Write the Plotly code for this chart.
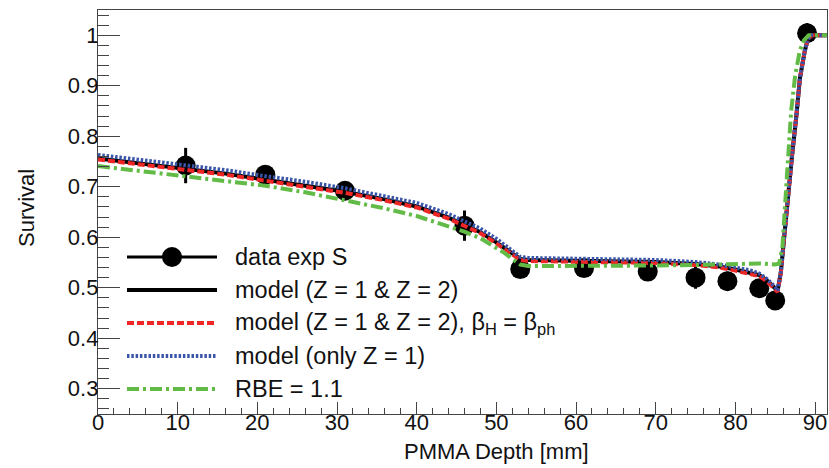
import plotly.graph_objects as go

# Measured survival (experiment S)
depth = [11, 21, 31, 46, 53, 61, 69, 75, 79, 83, 85, 89]
survival = [0.742, 0.724, 0.692, 0.623, 0.537, 0.539, 0.532, 0.520, 0.513, 0.499, 0.475, 1.004]
survival_err = [0.035, 0.006, 0.006, 0.030, 0.006, 0.006, 0.006, 0.022, 0.019, 0.017, 0.008, 0.020]

# Model curves
model_x = [0, 5, 11, 16, 21, 26, 31, 36, 40, 44, 46, 48, 50, 51, 52, 53, 54, 60, 65, 70,
           75, 78, 80, 82, 83, 84, 85, 85.3, 85.7, 86.1, 86.6, 87.1, 87.66, 88.1, 88.7,
           89.1, 89.6, 91.5]
model_z12 = [0.756, 0.747, 0.736, 0.726, 0.714, 0.703, 0.690, 0.675, 0.661, 0.639, 0.625,
             0.610, 0.590, 0.579, 0.566, 0.557, 0.555, 0.554, 0.553, 0.551, 0.547, 0.542,
             0.536, 0.530, 0.525, 0.514, 0.499, 0.494, 0.530, 0.600, 0.672, 0.760, 0.841,
             0.915, 0.968, 0.993, 1.0, 1.0]
model_z12_beta = [0.754, 0.745, 0.734, 0.724, 0.712, 0.701, 0.688, 0.673, 0.659, 0.637,
                  0.623, 0.608, 0.588, 0.577, 0.564, 0.555, 0.553, 0.552, 0.551, 0.549,
                  0.545, 0.540, 0.534, 0.528, 0.523, 0.512, 0.497, 0.492, 0.528, 0.600,
                  0.672, 0.760, 0.841, 0.915, 0.968, 0.993, 1.0, 1.0]
model_z1 = [0.763, 0.754, 0.743, 0.733, 0.721, 0.710, 0.697, 0.682, 0.668, 0.646, 0.632,
            0.617, 0.597, 0.585, 0.571, 0.561, 0.559, 0.558, 0.557, 0.555, 0.551, 0.546,
            0.540, 0.534, 0.528, 0.517, 0.501, 0.495, 0.530, 0.600, 0.672, 0.760, 0.841,
            0.915, 0.968, 0.993, 1.0, 1.0]
rbe_x = [0, 5, 11, 16, 21, 26, 31, 36, 40, 44, 46, 48, 50, 51, 52, 53, 54, 60, 65, 70, 75,
         80, 83, 85, 85.5, 85.9, 86.2, 86.6, 87.0, 87.5, 88.1, 88.6, 89.2, 91.5]
rbe_11 = [0.741, 0.732, 0.721, 0.712, 0.702, 0.689, 0.674, 0.657, 0.642, 0.622, 0.611,
          0.598, 0.580, 0.569, 0.557, 0.546, 0.543, 0.543, 0.543, 0.544, 0.545, 0.547,
          0.548, 0.546, 0.548, 0.580, 0.652, 0.750, 0.850, 0.920, 0.970, 0.990, 1.0, 1.0]

y_ticks = [0.3, 0.4, 0.5, 0.6, 0.7, 0.8, 0.9, 1.0]
y_ticktext = ["0.3", "0.4", "0.5", "0.6", "0.7", "0.8", "0.9", "1"]
x_ticks = [0, 10, 20, 30, 40, 50, 60, 70, 80, 90]

legend_labels = ["data exp S", "model (Z = 1 & Z = 2)",
                 "model (Z = 1 & Z = 2), β<sub>H</sub> = β<sub>ph</sub>",
                 "model (only Z = 1)", "RBE = 1.1"]

BLACK = "#000000"
RED = "#ee2626"
BLUE = "#3a55a8"
GREEN = "#62bb46"

W, H = 829, 468
L, R, T, B = 98, 2, 10, 54
PW, PH = W - L - R, H - T - B
FONT = "Liberation Sans, Arial, sans-serif"


def px(xp):
    return (xp - L) / PW


def py(yp):
    return (H - B - yp) / PH


styles = [
    dict(color=BLACK, width=4, dash="solid"),
    dict(color=RED, width=4, dash="7px,3px"),
    dict(color=BLUE, width=4, dash="2.5px,1.8px"),
    dict(color=GREEN, width=4, dash="12px,4px,3px,4px"),
]

fig = go.Figure()

fig.add_trace(go.Scatter(
    x=depth, y=survival, mode="markers",
    marker=dict(color=BLACK, size=20),
    error_y=dict(type="data", array=survival_err, color=BLACK, thickness=3, width=0),
    showlegend=False,
))
for xs, ys, st in [(model_x, model_z12, styles[0]),
                   (model_x, model_z12_beta, styles[1]),
                   (model_x, model_z1, styles[2]),
                   (rbe_x, rbe_11, styles[3])]:
    fig.add_trace(go.Scatter(x=xs, y=ys, mode="lines", line=st, showlegend=False))

# Legend drawn in pixel positions inside the frame
rows = [257, 290, 323, 356, 389]
x0, x1, xt = 127, 217, 233
shapes = []
annotations = []
shapes.append(dict(type="line", xref="paper", yref="paper",
                   x0=px(x0), x1=px(x1), y0=py(rows[0]), y1=py(rows[0]),
                   line=dict(color=BLACK, width=3)))
shapes.append(dict(type="circle", xref="paper", yref="paper",
                   x0=px(172 - 10), x1=px(172 + 10), y0=py(rows[0] + 10), y1=py(rows[0] - 10),
                   fillcolor=BLACK, line=dict(color=BLACK, width=0)))
for r, st in zip(rows[1:], styles):
    shapes.append(dict(type="line", xref="paper", yref="paper",
                       x0=px(x0), x1=px(x1), y0=py(r), y1=py(r), line=st))
for r, lab in zip(rows, legend_labels):
    annotations.append(dict(xref="paper", yref="paper", x=px(xt), y=py(r),
                            xanchor="left", yanchor="middle", text=lab, showarrow=False,
                            font=dict(family=FONT, size=23.5, color="#111")))

# Axis titles
annotations.append(dict(xref="paper", yref="paper", x=px(497), y=py(451),
                        xanchor="center", yanchor="middle", text="PMMA Depth [mm]",
                        showarrow=False, font=dict(family=FONT, size=22, color="#111")))
annotations.append(dict(xref="paper", yref="paper", x=px(26), y=py(208),
                        xanchor="center", yanchor="middle", text="Survival", textangle=-90,
                        showarrow=False, font=dict(family=FONT, size=22, color="#111")))

fig.update_layout(
    width=W, height=H,
    margin=dict(l=L, r=R, t=T, b=B),
    paper_bgcolor="white", plot_bgcolor="white",
    font=dict(family=FONT, size=22, color="#111"),
    shapes=shapes, annotations=annotations,
    showlegend=False,
)
fig.update_xaxes(
    range=[0, 91.5], tickvals=x_ticks, ticks="inside", ticklen=12, tickwidth=1,
    tickcolor="#444", showline=True, linecolor="#444", linewidth=1.3, mirror=True,
    showgrid=False, zeroline=False, ticklabelstandoff=-12,
    minor=dict(dtick=2, tick0=0, ticks="inside", ticklen=6, tickcolor="#444", showgrid=False),
    tickfont=dict(family=FONT, size=22, color="#111"),
)
fig.update_yaxes(
    range=[0.25, 1.05], tickvals=y_ticks, ticktext=y_ticktext, ticks="inside", ticklen=22,
    tickwidth=1, tickcolor="#444", showline=True, linecolor="#444", linewidth=1.3,
    mirror=True, showgrid=False, zeroline=False, ticklabelstandoff=-6,
    minor=dict(dtick=0.02, tick0=0, ticks="inside", ticklen=11, tickcolor="#444", showgrid=False),
    tickfont=dict(family=FONT, size=22, color="#111"),
)

fig.write_html("out.html")
